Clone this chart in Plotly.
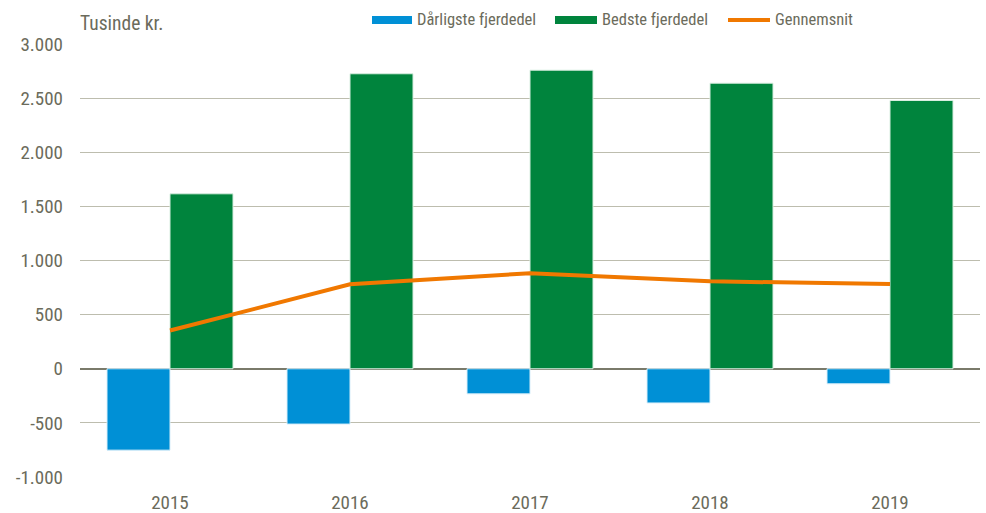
import plotly.graph_objects as go

years = ["2015", "2016", "2017", "2018", "2019"]
worst_quarter = [-752, -511, -232, -316, -139]
best_quarter = [1616, 2725, 2758, 2638, 2478]
average = [353, 780, 882, 808, 782]
y_ticks = [-1000, -500, 0, 500, 1000, 1500, 2000, 2500, 3000]
y_tick_labels = ["-1.000", "-500", "0", "500", "1.000", "1.500", "2.000", "2.500", "3.000"]
series_names = ["Dårligste fjerdedel", "Bedste fjerdedel", "Gennemsnit"]

BLUE = "#0090d6"
GREEN = "#00843d"
ORANGE = "#f07800"
TEXT = "#6b6b5b"
FONT = "Roboto Condensed, Liberation Sans, Arial"

L, R, T, B = 80, 6, 44, 36
W, H = 986, 513
PW, PH = W - L - R, H - T - B

fig = go.Figure()
fig.add_trace(go.Bar(x=years, y=worst_quarter, name=series_names[0],
                     marker=dict(color=BLUE, line=dict(color="#d8eef9", width=1))))
fig.add_trace(go.Bar(x=years, y=best_quarter, name=series_names[1],
                     marker=dict(color=GREEN, line=dict(color="#d8eee0", width=1))))
fig.add_trace(go.Scatter(x=years, y=average, name=series_names[2], mode="lines",
                         line=dict(color=ORANGE, width=4)))

def px(x):
    return (x - L) / PW

def py(y):
    return (H - B - y) / PH

shapes = []
annotations = []
legend_items = [(372, 412, BLUE, "rect"), (555, 597, GREEN, "rect"), (728, 770, ORANGE, "line")]
for (x0, x1, color, kind), name in zip(legend_items, series_names):
    if kind == "rect":
        shapes.append(dict(type="rect", xref="paper", yref="paper", x0=px(x0), x1=px(x1),
                           y0=py(24), y1=py(16), fillcolor=color, line=dict(width=0)))
    else:
        shapes.append(dict(type="line", xref="paper", yref="paper", x0=px(x0), x1=px(x1),
                           y0=py(20), y1=py(20), line=dict(color=color, width=4)))
    annotations.append(dict(text=name, xref="paper", yref="paper", x=px(x1 + 3), y=py(20),
                            xanchor="left", yanchor="middle", showarrow=False,
                            font=dict(size=16.5, color=TEXT)))
annotations.append(dict(text="Tusinde kr.", xref="paper", yref="paper", x=px(78), y=py(24),
                        xanchor="left", yanchor="middle", showarrow=False,
                        font=dict(size=19.5, color=TEXT)))

fig.update_layout(
    width=W, height=H,
    margin=dict(l=L, r=R, t=T, b=B),
    paper_bgcolor="white", plot_bgcolor="white",
    font=dict(family=FONT, size=19, color=TEXT),
    barmode="group", bargap=0.3, bargroupgap=0,
    showlegend=False,
    shapes=shapes, annotations=annotations,
)
fig.update_xaxes(showgrid=False, showline=False, ticks="", automargin=False,
                 ticklabelstandoff=12, tickfont=dict(size=19, color=TEXT))
fig.update_yaxes(range=[-1000, 3000], tickvals=y_ticks, ticktext=y_tick_labels,
                 showgrid=True, gridcolor="#bdbdae", gridwidth=1.3, automargin=False,
                 zeroline=True, zerolinecolor="#7a7a6a", zerolinewidth=2,
                 ticks="", ticklabelstandoff=16, tickfont=dict(size=19, color=TEXT))

fig.write_html("out.html", config={"displayModeBar": False},
               post_script="document.body.style.margin='0px';")
